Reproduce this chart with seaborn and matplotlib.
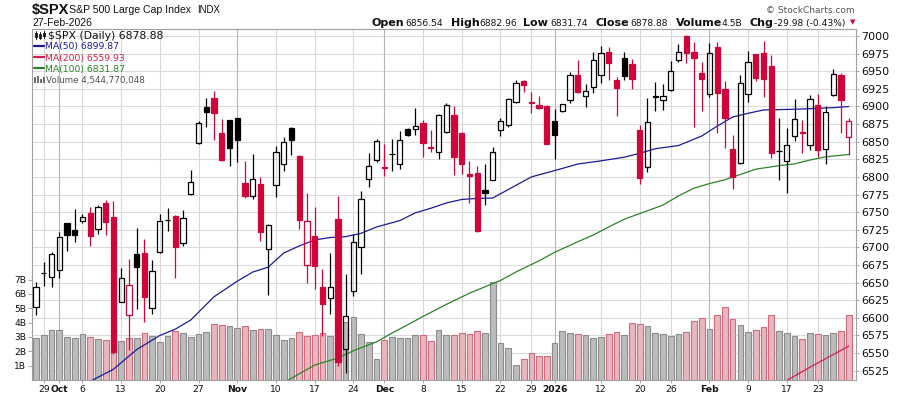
import numpy as np
import pandas as pd
import matplotlib
matplotlib.use("Agg")
import matplotlib.pyplot as plt
from matplotlib.lines import Line2D
from matplotlib.patches import Rectangle
import seaborn as sns

# ---------------- data ----------------
start_date = "2025-09-26"
end_date = "2026-02-27"
market_holidays = ["2025-11-27", "2025-12-25", "2026-01-01", "2026-01-19", "2026-02-16"]
prev_close = 6604.7

opens = [6615.8, 6663.0, 6657.5, 6667.4, 6734.1, 6724.7, 6737.0, 6748.8, 6726.5, 6763.0,
         6743.6, 6622.9, 6603.5, 6690.6, 6692.0, 6614.4, 6693.0, 6739.0, 6744.5, 6705.7,
         6775.3, 6847.7, 6898.8, 6911.5, 6862.8, 6880.8, 6883.2, 6791.4, 6772.4, 6790.0,
         6698.2, 6788.0, 6817.9, 6868.9, 6829.7, 6674.5, 6716.1, 6643.8, 6627.7, 6740.3,
         6555.3, 6637.6, 6700.0, 6796.6, 6823.5, 6813.5, 6832.5, 6817.9, 6867.5, 6867.5,
         6877.0, 6842.9, 6834.9, 6863.3, 6887.9, 6862.8, 6803.6, 6805.0, 6781.4, 6795.6,
         6866.0, 6873.7, 6905.9, 6936.0, 6906.3, 6901.6, 6901.0, 6878.9, 6893.5, 6909.2,
         6944.6, 6914.8, 6928.0, 6944.6, 6976.8, 6937.5, 6968.3, 6960.3, 6866.6, 6813.6,
         6913.9, 6908.7, 6923.4, 6965.9, 7000.0, 6976.8, 6947.5, 6917.2, 6983.9, 6924.3,
         6839.6, 6819.3, 6917.7, 6974.4, 6975.4, 6957.4, 6836.8, 6822.6, 6858.1, 6863.3,
         6844.8, 6901.6, 6839.1, 6915.8, 6944.6, 6856.54]
highs = [6651.3, 6679.7, 6693.0, 6721.4, 6734.5, 6754.0, 6748.0, 6757.3, 6760.1, 6767.2,
         6765.8, 6670.3, 6683.5, 6727.9, 6711.9, 6682.0, 6747.0, 6755.4, 6745.5, 6753.0,
         6809.8, 6879.4, 6912.5, 6922.0, 6882.2, 6881.0, 6883.5, 6822.6, 6832.5, 6800.3,
         6733.2, 6843.9, 6856.2, 6871.3, 6831.0, 6776.7, 6756.8, 6668.8, 6692.0, 6772.9,
         6661.7, 6718.5, 6780.0, 6833.5, 6853.3, 6846.7, 6853.3, 6865.2, 6869.0, 6897.8,
         6880.8, 6866.6, 6889.3, 6904.4, 6900.6, 6863.5, 6822.6, 6815.5, 6818.3, 6842.0,
         6883.1, 6911.5, 6937.0, 6938.0, 6921.0, 6915.3, 6902.0, 6896.4, 6904.0, 6948.4,
         6966.0, 6931.4, 6977.8, 6985.8, 6983.9, 6941.3, 6977.8, 6966.9, 6873.2, 6912.5,
         6934.7, 6931.4, 6964.5, 6988.2, 7001.4, 6992.0, 6963.6, 6989.6, 6991.5, 6936.1,
         6859.5, 6944.6, 6978.7, 6975.0, 6992.9, 6973.0, 6883.1, 6869.0, 6910.6, 6880.8,
         6916.3, 6917.7, 6900.6, 6952.7, 6947.0, 6882.96]
lows = [6604.0, 6645.7, 6643.3, 6657.0, 6695.3, 6707.6, 6734.0, 6702.4, 6719.4, 6717.6,
        6548.6, 6622.0, 6554.3, 6613.0, 6594.5, 6605.0, 6692.5, 6723.7, 6657.0, 6702.4,
        6775.0, 6846.2, 6871.3, 6852.4, 6823.0, 6816.0, 6821.6, 6770.6, 6769.0, 6709.0,
        6632.4, 6772.0, 6808.9, 6831.1, 6726.6, 6649.0, 6640.4, 6574.2, 6605.0, 6531.6,
        6521.2, 6631.5, 6661.7, 6786.2, 6821.6, 6801.8, 6808.9, 6811.7, 6858.0, 6860.0,
        6828.7, 6835.0, 6825.4, 6862.0, 6802.7, 6804.0, 6762.5, 6722.3, 6760.6, 6795.0,
        6857.6, 6870.4, 6905.5, 6921.0, 6890.2, 6897.0, 6846.0, 6825.9, 6892.0, 6904.4,
        6919.5, 6899.7, 6918.6, 6933.8, 6937.5, 6886.9, 6937.5, 6925.2, 6789.9, 6807.4,
        6894.0, 6895.0, 6922.0, 6962.6, 6962.1, 6871.3, 6894.0, 6913.9, 6862.8, 6840.6,
        6782.4, 6818.8, 6906.8, 6936.1, 6913.0, 6826.4, 6795.6, 6777.6, 6851.4, 6834.4,
        6838.2, 6827.8, 6817.8, 6915.5, 6861.8, 6831.74]
closes = [6644.2, 6663.5, 6690.6, 6714.2, 6717.5, 6718.0, 6743.1, 6716.6, 6757.3, 6736.5,
          6551.0, 6656.0, 6646.1, 6672.6, 6630.0, 6666.5, 6737.0, 6739.5, 6701.0, 6741.2,
          6793.3, 6876.0, 6891.7, 6891.2, 6824.0, 6841.5, 6852.9, 6773.4, 6797.5, 6722.3,
          6731.3, 6834.9, 6849.1, 6852.4, 6738.9, 6736.9, 6674.0, 6619.2, 6643.3, 6537.8,
          6603.0, 6707.2, 6768.2, 6815.0, 6850.5, 6812.6, 6833.0, 6851.9, 6859.0, 6871.8,
          6848.6, 6841.0, 6887.9, 6902.0, 6828.7, 6818.3, 6801.8, 6723.2, 6776.7, 6835.8,
          6879.8, 6910.1, 6932.8, 6930.0, 6904.4, 6897.3, 6846.7, 6860.0, 6903.0, 6944.6,
          6920.0, 6921.5, 6966.0, 6975.4, 6962.1, 6926.7, 6943.7, 6939.0, 6798.9, 6877.5,
          6914.8, 6915.3, 6949.8, 6976.8, 6975.5, 6968.3, 6938.5, 6975.4, 6918.6, 6884.1,
          6799.9, 6932.8, 6963.6, 6939.9, 6939.0, 6833.5, 6837.2, 6844.8, 6882.7, 6862.3,
          6910.1, 6838.7, 6891.6, 6945.6, 6908.86, 6878.88]
volumes_b = [2.90, 3.16, 3.51, 3.51, 3.02, 2.90, 3.21, 3.02, 2.86, 2.79,
             2.80, 2.74, 2.93, 2.95, 3.28, 3.07, 2.67, 3.07, 3.44, 3.28,
             3.02, 3.21, 3.37, 3.90, 3.83, 3.76, 3.63, 3.76, 3.49, 3.56,
             3.56, 3.14, 2.81, 2.93, 3.35, 3.07, 3.14, 3.28, 3.09, 3.50,
             4.02, 4.42, 3.21, 2.65, 1.49, 2.81, 3.00, 2.93, 2.93, 3.14,
             3.14, 2.74, 3.51, 3.16, 3.14, 3.28, 3.21, 3.42, 3.28, 6.84,
             2.58, 2.25, 1.04, 1.49, 1.89, 1.70, 1.70, 2.58, 3.44, 3.28,
             3.21, 3.14, 2.93, 3.02, 3.21, 3.35, 3.16, 3.97, 3.90, 3.79,
             3.28, 3.21, 3.05, 3.21, 3.35, 4.14, 4.30, 3.56, 4.53, 5.11,
             4.25, 3.86, 3.37, 3.51, 3.72, 4.53, 3.44, 3.30, 3.09, 2.88,
             3.26, 3.21, 3.16, 3.30, 3.44, 4.54]

# moving averages (trading-day index, value)
ma50_idx = [6, 7, 10, 13, 16, 18, 20, 23, 26, 28, 30, 32, 34, 36, 38, 40, 42, 44, 47, 49,
            51, 53, 55, 57, 59, 62, 64, 67, 70, 73, 76, 78, 80, 83, 86, 88, 90, 92, 94, 98,
            101, 103, 105]
ma50_val = [6503, 6510, 6527, 6555, 6575, 6584, 6597, 6630, 6652, 6665, 6672, 6692, 6702,
            6710.5, 6714, 6715.2, 6720, 6729, 6738, 6749, 6755.5, 6763, 6768, 6769.5, 6770,
            6788, 6800, 6809, 6818.3, 6822.8, 6828, 6833.5, 6840, 6844.5, 6858, 6872, 6885,
            6890.3, 6895, 6896, 6897.3, 6898.3, 6899.87]
ma100_idx = [32, 36, 39, 41, 44, 46, 48, 50, 53, 56, 58, 60, 62, 65, 67, 70, 72, 74, 76,
             78, 81, 83, 85, 87, 89, 91, 93, 96, 98, 100, 102, 105]
ma100_val = [6508, 6533, 6543, 6553.4, 6566, 6578.5, 6590, 6602, 6619, 6635, 6644, 6653,
             6665, 6681, 6693, 6708, 6717.6, 6729, 6740, 6748, 6760, 6773, 6784, 6790.5,
             6796, 6803.5, 6811, 6816, 6818.5, 6824, 6828.5, 6831.87]
ma200_idx = [96, 100, 105]
ma200_val = [6505, 6530, 6559.93]

tick_dates = ["2025-09-29", "2025-10-01", "2025-10-06", "2025-10-13", "2025-10-20",
              "2025-10-27", "2025-11-03", "2025-11-10", "2025-11-17", "2025-11-24",
              "2025-12-01", "2025-12-08", "2025-12-15", "2025-12-22", "2025-12-29",
              "2026-01-02", "2026-01-12", "2026-01-20", "2026-01-26", "2026-02-02",
              "2026-02-09", "2026-02-17", "2026-02-23"]
tick_labels = ["29", "Oct", "6", "13", "20", "27", "Nov", "10", "17", "24", "Dec", "8",
               "15", "22", "29", "2026", "12", "20", "26", "Feb", "9", "17", "23"]
price_ticks = list(range(6525, 7001, 25))
vol_ticks = [1, 2, 3, 4, 5, 6, 7]
vol_tick_labels = ["1B", "2B", "3B", "4B", "5B", "6B", "7B"]

# ---------------- style ----------------
sns.set_theme(style="white")
plt.rcParams['font.family'] = ['DejaVu Sans']

RED = "#d0063a"
BLACK = "#000000"
NAVY = "#1b1b9a"
GREEN = "#2a842a"
MARED = "#d81e4a"

W, H = 900, 396
fig = plt.figure(figsize=(W / 100, H / 100), dpi=100)
fig.patch.set_facecolor("white")

L, R, T, B = 32, 856, 29, 380
rect = [L / W, 1 - B / H, (R - L) / W, (B - T) / H]

days = pd.bdate_range(start_date, end_date)
days = days[~days.isin(pd.to_datetime(market_holidays))]
pos = np.arange(len(days))
lookup = {d: i for i, d in enumerate(days)}
tick_pos = [lookup[pd.Timestamp(d)] for d in tick_dates]

opens = np.array(opens); highs = np.array(highs); lows = np.array(lows)
closes = np.array(closes); vols = np.array(volumes_b)
prevs = np.concatenate([[prev_close], closes[:-1]])
down = closes < prevs
hollow = closes >= opens

ax = fig.add_axes(rect)
axv = fig.add_axes(rect, sharex=ax)
axp = fig.add_axes(rect, sharex=ax, sharey=ax)
ax.set_zorder(0); axv.set_zorder(1); axp.set_zorder(2)
axv.patch.set_visible(False); axp.patch.set_visible(False)

xlo, xhi = -0.52, len(days) - 0.06
ylo, yhi = 6511.8, 7009.9
ax.set_xlim(xlo, xhi)
ax.set_ylim(ylo, yhi)

# grid
for p in price_ticks:
    ax.axhline(p, color="#dcdcdc", lw=0.8, zorder=0)
for tp, lab in zip(tick_pos, tick_labels):
    major = not lab.isdigit() or len(lab) == 4
    ax.axvline(tp, color="#b4b4b4" if major else "#d8d8d8", lw=0.8, zorder=0)

ax.yaxis.tick_right()
ax.set_yticks(price_ticks)
ax.set_yticklabels([str(p) for p in price_ticks])
ax.tick_params(axis="y", right=True, left=False, length=2, width=0.6, color="#999999",
               labelsize=8, pad=2, labelcolor="#111111")
ax.set_xticks(tick_pos)
ax.set_xticklabels(tick_labels)
ax.tick_params(axis="x", bottom=True, length=2, width=0.6, color="#999999",
               labelsize=6.6, pad=1.5, labelcolor="#111111")
for t, lab in zip(ax.get_xticklabels(), tick_labels):
    if not lab.isdigit() or len(lab) == 4:
        t.set_fontweight("bold")
for s in ax.spines.values():
    s.set_color("#a0a0a0"); s.set_linewidth(0.8)
ax.set_xlabel(""); ax.set_ylabel("")

# volume
vmax = 24.45
axv.set_ylim(0, vmax)
vfill = np.where(down, "#e8b6bd", "#bcbcbc")
vedge = np.where(down, "#d26b7d", "#8c8c8c")
axv.bar(pos, vols, width=0.74, color=vfill, edgecolor=vedge, linewidth=0.8, zorder=1)
axv.yaxis.tick_left()
axv.set_yticks(vol_ticks)
axv.set_yticklabels(vol_tick_labels)
axv.tick_params(axis="y", left=True, length=3, width=0.6, color="#999999", labelsize=6.6,
                pad=1, labelcolor="#111111")
axv.tick_params(axis="x", bottom=False, labelbottom=False)
for s in axv.spines.values():
    s.set_visible(False)

# moving averages
sns.lineplot(x=ma50_idx, y=ma50_val, ax=axp, color=NAVY, linewidth=0.9, legend=False)
sns.lineplot(x=ma100_idx, y=ma100_val, ax=axp, color=GREEN, linewidth=0.9, legend=False)
sns.lineplot(x=ma200_idx, y=ma200_val, ax=axp, color=MARED, linewidth=0.9, legend=False)

# candles: wicks only outside the body, hollow bodies transparent
ccol = np.where(down, RED, BLACK)
body_top = np.maximum(opens, closes)
body_bot = np.minimum(opens, closes)
axp.vlines(pos, body_top, highs, colors=ccol, linewidth=0.9, zorder=3)
axp.vlines(pos, lows, body_bot, colors=ccol, linewidth=0.9, zorder=3)
heights = np.maximum(body_top - body_bot, 0.4)
faces = [("none" if h else c) for h, c in zip(hollow, ccol)]
axp.bar(pos, heights, bottom=body_bot, width=0.68, color=faces, edgecolor=ccol,
        linewidth=0.9, zorder=4)
axp.tick_params(axis="both", which="both", left=False, right=False, bottom=False,
                top=False, labelleft=False, labelright=False, labelbottom=False)
for s in axp.spines.values():
    s.set_visible(False)
axp.set_xlabel(""); axp.set_ylabel("")
ax.set_xlim(xlo, xhi)
ax.set_ylim(ylo, yhi)

# ---------------- header texts ----------------
def fx(x):
    return x / W

def fy(y):
    return 1 - y / H

fig.text(fx(32), fy(14), "$SPX", fontsize=10.5, fontweight="bold",
         family=["Liberation Sans", "DejaVu Sans"], va="baseline", color="#111111")
fig.text(fx(69), fy(13), "S&P 500 Large Cap Index", fontsize=7.6,
         family=["Liberation Sans", "DejaVu Sans"], va="baseline", color="#111111")
fig.text(fx(197), fy(13), "INDX", fontsize=6.9,
         family=["Liberation Sans", "DejaVu Sans"], va="baseline", color="#111111")
fig.text(fx(32), fy(26.5), "27-Feb-2026", fontsize=7.5,
         family=["Liberation Sans", "DejaVu Sans"], va="baseline", color="#111111")
fig.text(fx(855), fy(13), "\u00a9 StockCharts.com", fontsize=6.5, ha="right",
         va="baseline", color="#555555")

segments = [(372, "Open", True), (405, "6856.54", False), (451, "High", True),
            (479, "6882.96", False), (523, "Low", True), (550, "6831.74", False),
            (595, "Close", True), (630, "6878.88", False), (676, "Volume", True),
            (721, "4.5B", False), (749, "Chg", True), (774, "-29.98 (-0.43%)", False)]
for x, txt, bold in segments:
    fig.text(fx(x), fy(26), txt, fontsize=8 if bold else 6.6,
             fontweight="bold" if bold else "normal", va="baseline", color="#111111")
fig.text(fx(853), fy(22.5), "\u25bc", fontsize=5, ha="center", va="center", color=RED)

# ---------------- legend inside plot ----------------
fig.text(fx(47.5), fy(39.3), "$SPX (Daily) 6878.88", fontsize=7.8, va="baseline",
         color="#111111")
# candle icon
for xi, (lo, hi, blo, bhi, filled) in zip([36, 40, 44], [(31, 39, 33, 37, True),
                                                         (32, 39, 34, 38, False),
                                                         (31, 38, 33, 36, True)]):
    fig.add_artist(Line2D([fx(xi), fx(xi)], [fy(hi), fy(lo)], color="#111111", lw=0.7))
    fig.add_artist(Rectangle((fx(xi - 1.2), fy(bhi)), 2.4 / W, (bhi - blo) / H,
                             facecolor="#111111" if filled else "white",
                             edgecolor="#111111", lw=0.6))
legend_rows = [(49.0, 45.7, "MA(50) 6899.87", NAVY),
               (60.7, 56.7, "MA(200) 6559.93", MARED),
               (71.7, 68.3, "MA(100) 6831.87", GREEN)]
for base, ly, txt, col in legend_rows:
    fig.add_artist(Line2D([fx(34), fx(44)], [fy(ly), fy(ly)], color=col, lw=1.6))
    fig.text(fx(45), fy(base), txt, fontsize=6.7, va="baseline", color=col)
# volume icon
for xi, hgt in zip([35, 38, 41, 43.5], [5, 7, 4, 6]):
    fig.add_artist(Rectangle((fx(xi - 1), fy(82.5)), 2 / W, hgt / H,
                             facecolor="#707070", edgecolor="none"))
fig.text(fx(45.5), fy(82.7), "Volume 4,544,770,048", fontsize=6.3, va="baseline",
         color="#505050")

fig.savefig("out.png", dpi=100, facecolor="white")
